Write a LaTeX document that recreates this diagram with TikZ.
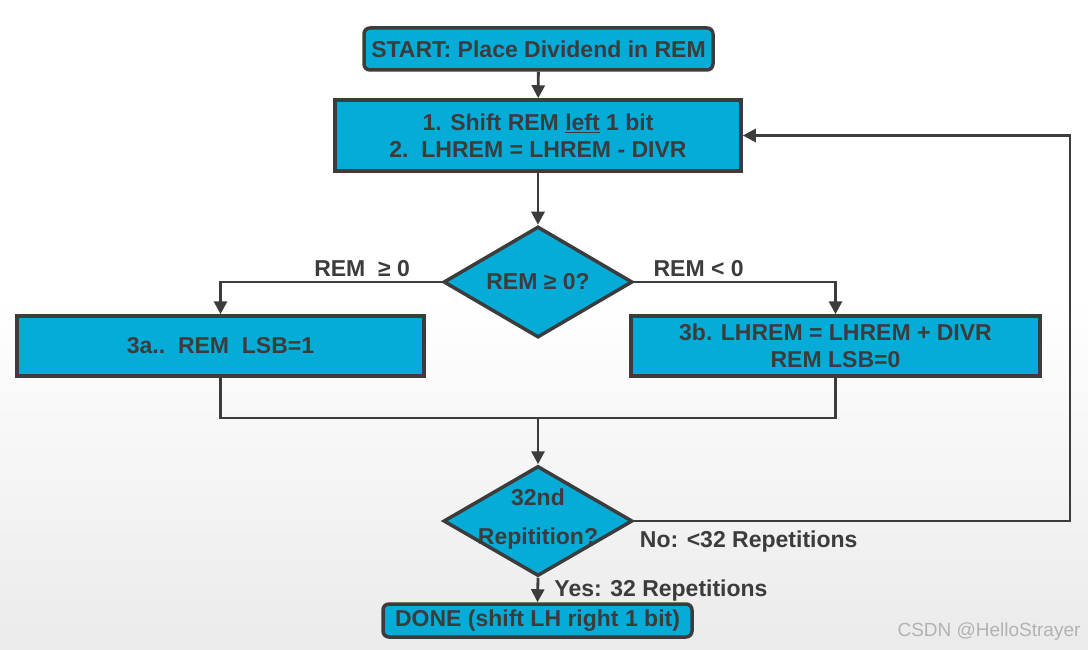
\documentclass[tikz,border=0pt]{standalone}
\usepackage{fontspec}
\setmainfont{Liberation Sans}
\usetikzlibrary{shapes.geometric,arrows.meta}

\definecolor{flowblue}{HTML}{05ACD8}
\definecolor{flowgray}{HTML}{3C3C3C}

\tikzset{
  boxtext/.style={font=\fontsize{23}{27}\selectfont\bfseries, text=flowgray, align=center},
  procbox/.style={boxtext, draw=flowgray, fill=flowblue, line width=3.5pt, inner sep=0pt},
  termbox/.style={procbox, rounded corners=6pt},
  decision/.style={boxtext, diamond, aspect=1.7, draw=flowgray, fill=flowblue, line width=3.5pt, inner sep=0pt},
  flowline/.style={draw=flowgray, line width=2.8pt},
  flowarrow/.style={flowline, -{Triangle[length=13pt,width=13pt]}},
  branchlabel/.style={boxtext}
}

\begin{document}
\begin{tikzpicture}[x=1pt,y=-1pt]
  % background
  \useasboundingbox (0,0) rectangle (1088,650);
  \fill[white] (0,0) rectangle (1088,300);
  \shade[top color=white, bottom color=gray!16] (0,300) rectangle (1088,650);
  % draw boxes and tests
  \node[termbox, minimum width=349, minimum height=42] (start_box) at (538.5,49) {START: Place Dividend in REM};
  \node[procbox, minimum width=406, minimum height=71] (step_box) at (538,135.5) {1. Shift REM \underline{left} 1 bit\\2.\ \ LHREM = LHREM - DIVR};
  \node[decision, minimum width=189, minimum height=111] (test_rem) at (538,282) {REM ≥ 0?};
  \node[procbox, minimum width=407, minimum height=60] (box_3a) at (220.5,346) {3a..\ \ REM\ \ LSB=1};
  \node[procbox, minimum width=409, minimum height=60] (box_3b) at (835.5,346) {3b. LHREM = LHREM + DIVR\\REM LSB=0};
  \node[decision, minimum width=189, minimum height=110, inner sep=-8pt] (test_rep) at (538,521) {};
  \node[boxtext] (rep_txt) at ([yshift=2pt]test_rep.center) {32nd\\[12pt]Repitition?};
  \node[termbox, minimum width=309, minimum height=33] (done_box) at (537.5,620.5) {DONE (shift LH right 1 bit)};
  % draw connectors
  \coordinate (join_pt) at (538,418);
  \coordinate (loop_pt) at (1070,521);
  \draw[flowarrow] (start_box) -- (step_box);
  \draw[flowarrow] (step_box) -- (test_rem);
  \draw[flowarrow] (test_rem.west) -| node[branchlabel, pos=0.18, above=1pt] {REM\ \ ≥ 0} (box_3a.north);
  \draw[flowarrow] (test_rem.east) -| node[branchlabel, pos=0.16, above=1pt] {REM < 0} (box_3b.north);
  \draw[flowline] (box_3a.south) |- (join_pt) -| (box_3b.south);
  \draw[flowarrow] (join_pt) -- (test_rep.north);
  \draw[flowarrow] (test_rep.east) -- node[branchlabel, pos=0, anchor=north west, xshift=1pt, yshift=-5pt] {No: <32 Repetitions} (loop_pt) |- (step_box.east);
  \draw[flowarrow] (test_rep.south) -- node[branchlabel, anchor=west, xshift=12pt, yshift=-1pt] {Yes: 32 Repetitions} (done_box.north);
  % watermark
  \node[font=\fontsize{19}{22}\selectfont, text=gray!60, anchor=east] (mark_txt) at (1084,632) {CSDN @HelloStrayer};
\end{tikzpicture}
\end{document}
